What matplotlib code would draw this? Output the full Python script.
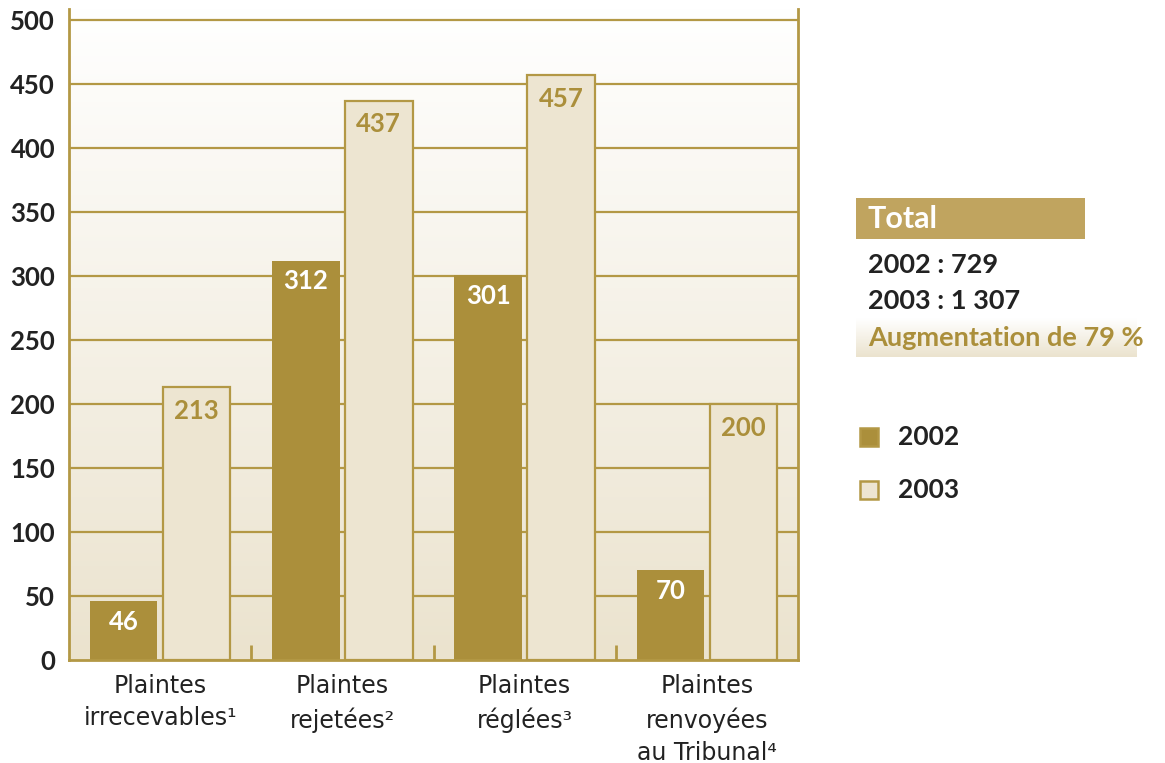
import numpy as np
import matplotlib
matplotlib.use("Agg")
import matplotlib.pyplot as plt
from matplotlib.colors import LinearSegmentedColormap
from matplotlib.patches import Rectangle

categories = ["Plaintes\nirrecevables\u00b9", "Plaintes\nrejetées\u00b2",
              "Plaintes\nréglées\u00b3", "Plaintes\nrenvoyées\nau Tribunal\u2074"]
vals_2002 = [46, 312, 301, 70]
vals_2003 = [213, 437, 457, 200]
yticks = [0, 50, 100, 150, 200, 250, 300, 350, 400, 450, 500]
total_lines = ["2002 : 729", "2003 : 1 307"]
increase_text = "Augmentation de 79 %"
series_names = ["2002", "2003"]

GOLD = "#ab8f3b"
LINE = "#b39845"
LIGHT = "#ede5d1"
BOX = "#c0a45f"
DARK = "#222222"

BOLD = ["Lato", "DejaVu Sans"]
NARROW = ["Liberation Sans Narrow", "DejaVu Sans"]

W, H = 1165, 763
fig = plt.figure(figsize=(W / 100, H / 100), dpi=100)

# plot area in pixel units
left, right, top, bottom = 69, 798, 8.5, 660
ax = fig.add_axes([left / W, (H - bottom) / H, (right - left) / W, (bottom - top) / H])
ymax = 509
ax.set_xlim(-0.5, 3.5)

# vertical wash: white at top, beige at bottom
wash = LinearSegmentedColormap.from_list("wash", ["#ffffff", "#ebe3ce"])
ax.imshow(np.linspace(0, 1, 256).reshape(-1, 1), cmap=wash, aspect="auto",
          extent=(-0.5, 3.5, 0, ymax), origin="upper", zorder=0)
ax.set_ylim(0, ymax)

for yv in yticks[1:]:
    ax.axhline(yv, color=LINE, lw=1.6, zorder=1)

x = np.arange(len(categories))
w = 0.37
b1 = ax.bar(x - 0.2, vals_2002, w, color=GOLD, edgecolor=GOLD, lw=0, zorder=2)
b2 = ax.bar(x + 0.2, vals_2003, w, color=LIGHT, edgecolor=LINE, lw=1.6, zorder=2)

for rect, v in zip(b1, vals_2002):
    ax.annotate(str(v), (rect.get_x() + rect.get_width() / 2, v), xytext=(0, -15),
                textcoords="offset points", ha="center", va="center",
                color="white", fontsize=18.5, fontweight="bold", family=BOLD, zorder=3)
for rect, v in zip(b2, vals_2003):
    ax.annotate(str(v), (rect.get_x() + rect.get_width() / 2, v), xytext=(0, -17),
                textcoords="offset points", ha="center", va="center",
                color=GOLD, fontsize=18.5, fontweight="bold", family=BOLD, zorder=3)

for side in ["left", "right", "bottom"]:
    ax.spines[side].set_color(LINE)
    ax.spines[side].set_linewidth(2)
ax.spines["top"].set_visible(False)

ax.set_yticks(yticks)
ax.set_yticklabels([str(t) for t in yticks], fontsize=18.5, fontweight="bold",
                   family=BOLD, color=DARK)
ax.tick_params(axis="y", length=0, pad=10)
ax.set_xticks(x)
ax.set_xticklabels(categories, fontsize=17, family=NARROW, color=DARK,
                   linespacing=1.45, va="top")
ax.tick_params(axis="x", which="major", length=0, pad=10)
ax.set_xticks([0.5, 1.5, 2.5], minor=True)
ax.tick_params(axis="x", which="minor", direction="in", length=11, width=2, color=LINE)

# side panel drawn in pixel coordinates
ov = fig.add_axes([0, 0, 1, 1])
ov.axis("off")
ov.patch.set_alpha(0)

ov.add_patch(Rectangle((856, 198), 229, 41, color=BOX, lw=0))
ov.text(868, 219, "Total", color="white", fontsize=22, fontweight="bold",
        family=BOLD, va="center", ha="left")
for i, line in enumerate(total_lines):
    ov.text(868, 265 + 36 * i, line, color=DARK, fontsize=19.5, fontweight="bold",
            family=BOLD, va="center", ha="left")
ov.imshow(np.linspace(0, 1, 64).reshape(-1, 1), cmap=wash, aspect="auto",
          extent=(856, 1137, 357, 318), origin="upper", zorder=0)
ov.set_xlim(0, W)
ov.set_ylim(H, 0)
ov.text(868, 338, increase_text, color=GOLD, fontsize=19.5, fontweight="bold",
        family=BOLD, va="center", ha="left", zorder=2)

for i, (name, fc) in enumerate(zip(series_names, [GOLD, LIGHT])):
    yc = 437 + 53 * i
    ov.add_patch(Rectangle((860, yc - 9), 18, 18, facecolor=fc, edgecolor=LINE, lw=1.8))
    ov.text(898, yc, name, color=DARK, fontsize=19, fontweight="bold",
            family=BOLD, va="center", ha="left")

fig.savefig("out.png", dpi=100)
